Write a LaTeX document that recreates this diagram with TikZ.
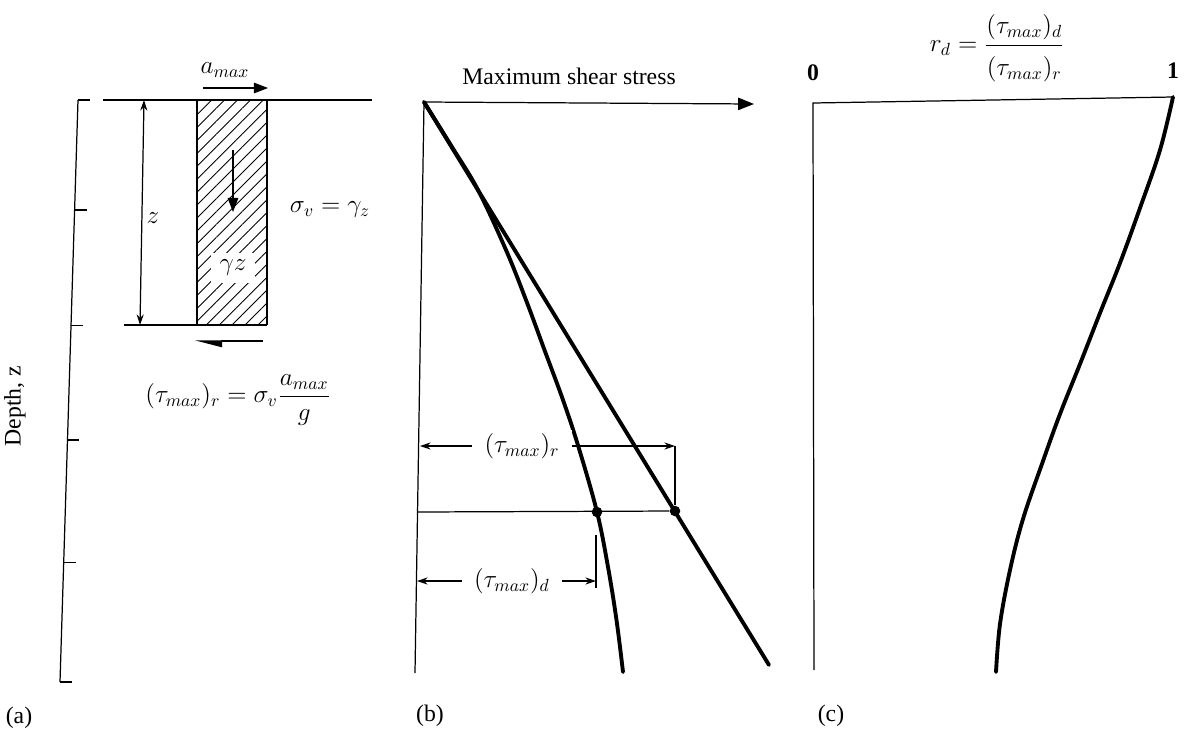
\documentclass[tikz,border=0pt]{standalone}
\usepackage{amsmath}
\usepackage{fontspec}
\setmainfont{Liberation Serif}
\usepackage{tikz}
\usetikzlibrary{positioning,arrows.meta,patterns.meta,calc}

\begin{document}
\begin{tikzpicture}[
    x=0.02cm, y=-0.02cm,
    every node/.style={inner sep=2pt},
    >=Stealth,
    thinline/.style={line width=0.7pt},
    thickcurve/.style={line width=2.2pt,line cap=round},
    lbl/.style={font=\fontsize{13.5}{16}\selectfont},
    mlbl/.style={font=\fontsize{14}{17}\selectfont},
    dimarrow/.style={thinline,{Stealth[length=6pt,width=4pt]}-{Stealth[length=6pt,width=4pt]}},
    dot/.style={circle,fill,inner sep=0pt,minimum size=6pt}
]
\useasboundingbox (0,0) rectangle (1204,738);

% (a) soil column
\coordinate (a0) at (78,100);
\coordinate (a1) at (60,682);
\draw[thinline] (a0) -- (a1);
\draw[thinline] (a0) -- ++(12,0);
\draw[thinline] (a1) -- ++(12,0);
\foreach \t in {0.189,0.387,0.584,0.794}
    \draw[thinline] ($(a0)!\t!(a1)$) -- ++(12,0);

\node[lbl,rotate=90] (depth) at (15,406) {Depth, z};

\coordinate (g0) at (103,100);
\coordinate (g1) at (372,100);
\draw[thinline] (g0) -- (g1);

\fill[pattern={Lines[angle=45,distance=5.2pt,line width=0.5pt]}] (197,100) rectangle (267,325);
\draw[thinline] (197,100) -- (197,325) (267,100) -- (267,325);
\draw[thinline] (124,325) -- (267,325);

\coordinate (ztop) at (144,100);
\coordinate (zbot) at (140,325);
\draw[dimarrow] (ztop) -- (zbot);
\node[mlbl] (zlbl) at (153,218) {$z$};

\coordinate (w0) at (233,150);
\coordinate (w1) at (233,212);
\draw[thinline,-{Triangle[length=8pt,width=6pt]}] (w0) -- (w1);
\node[mlbl,fill=white,inner xsep=5pt,inner ysep=4pt] (gz) at (233,268) {$\gamma z$};

\coordinate (acc0) at (203,88);
\coordinate (acc1) at (268,88);
\draw[thinline,-{Triangle[length=8pt,width=6pt]}] (acc0) -- (acc1);
\node[mlbl] (amax) at (225,70) {$a_{max}$};

\coordinate (sh0) at (263,341);
\coordinate (sh1) at (195,341);
\draw[thinline,-{Triangle[harpoon,length=14pt,width=7pt]}] (sh0) -- (sh1);

\node[mlbl] (sigv) at (330,210) {$\sigma_v = \gamma_z$};
\node[mlbl] (taueq) at (238,400) {$(\tau_{max})_r = \sigma_v \dfrac{a_{max}}{g}$};

\node[lbl] (pa) at (19,718) {(a)};

% (b) shear stress against depth
\coordinate (b0) at (424,102);
\coordinate (bx) at (754,104);
\coordinate (by) at (415,673);
\draw[thinline,-{Triangle[length=9pt,width=7pt]}] (b0) -- (bx);
\draw[thinline] (b0) -- (by);
\node[lbl] (mss) at (569,76) {Maximum shear stress};

\coordinate (rend) at (769,665);
\draw[thickcurve] (b0) -- (rend);
\draw[thickcurve] plot[smooth,tension=0.6] coordinates {(424,102) (452,147) (478,190) (506,250)
    (526,300) (544.5,350) (563,400) (578.5,447) (597,512) (608,567) (616.5,620) (623,672)};

\node[dot] (dd) at (597,512) {};
\node[dot] (dr) at (675,511) {};
\coordinate (h0) at (417,512);
\draw[thinline] (h0) -- (dr);

\coordinate (tr1) at (420,446);
\coordinate (tr2) at (675,446);
\draw[dimarrow] (tr1) -- node[mlbl,pos=0.4,fill=white,inner xsep=7pt] (taur) {$(\tau_{max})_r$} (tr2);
\draw[thinline] (tr2) -- (dr);

\coordinate (td1) at (417,581);
\coordinate (td2) at (596,581);
\draw[dimarrow] (td1) -- node[mlbl,pos=0.53,fill=white,inner xsep=7pt] (taud) {$(\tau_{max})_d$} (td2);
\draw[thinline] (596,535) -- (596,588);

\node[lbl] (pb) at (430,716) {(b)};

% (c) stress reduction factor
\coordinate (c0) at (813,103);
\coordinate (c1) at (1173,97);
\coordinate (cb) at (814,670);
\draw[thinline] (cb) -- (c0) -- (c1);
\draw[thickcurve] plot[smooth,tension=0.6] coordinates {(1173,97) (1160,150) (1140,208) (1120,263)
    (1100,313) (1080,364) (1060,414) (1043,461) (1023,519) (1010,570) (1000,624) (996,672)};

\node[lbl,font=\fontsize{13.5}{16}\selectfont\bfseries] (zero) at (813,73) {0};
\node[lbl,font=\fontsize{13.5}{16}\selectfont\bfseries] (one) at (1173,71) {1};
\node[mlbl] (rd) at (997,48) {$r_d = \dfrac{(\tau_{max})_d\rule[-5pt]{0pt}{0pt}}{\rule{0pt}{15pt}(\tau_{max})_r}$};

\node[lbl] (pc) at (831,716) {(c)};

\end{tikzpicture}
\end{document}
